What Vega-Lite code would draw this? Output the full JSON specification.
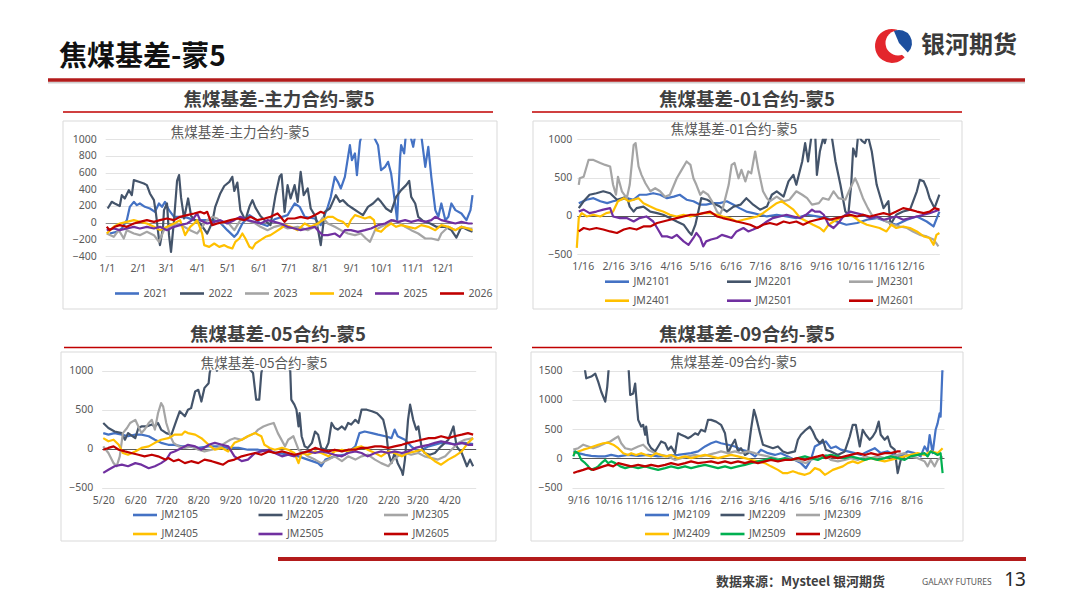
{
  "$schema": "https://vega.github.io/schema/vega-lite/v6.json",
  "width": 1080,
  "height": 608,
  "autosize": {"type": "none"},
  "padding": 0,
  "background": "white",
  "data": {"values": [{}]},
  "datasets": {
    "p1": [
      {"s":"2021","d":3,"v":-130},{"s":"2021","d":10,"v":-110},{"s":"2021","d":15,"v":-70},{"s":"2021","d":20,"v":30},{"s":"2021","d":23,"v":190},{"s":"2021","d":27,"v":250},{"s":"2021","d":30,"v":210},{"s":"2021","d":33,"v":230},{"s":"2021","d":38,"v":190},{"s":"2021","d":43,"v":170},{"s":"2021","d":48,"v":130},{"s":"2021","d":52,"v":230},{"s":"2021","d":55,"v":190},{"s":"2021","d":58,"v":250},{"s":"2021","d":62,"v":150},{"s":"2021","d":67,"v":70},{"s":"2021","d":72,"v":70},{"s":"2021","d":80,"v":60},{"s":"2021","d":87,"v":30},{"s":"2021","d":97,"v":30},{"s":"2021","d":107,"v":30},{"s":"2021","d":113,"v":0},{"s":"2021","d":120,"v":-90},{"s":"2021","d":127,"v":-170},{"s":"2021","d":130,"v":-130},{"s":"2021","d":135,"v":-10},{"s":"2021","d":138,"v":30},{"s":"2021","d":142,"v":90},{"s":"2021","d":147,"v":50},{"s":"2021","d":153,"v":-10},{"s":"2021","d":160,"v":-40},{"s":"2021","d":167,"v":40},{"s":"2021","d":180,"v":90},{"s":"2021","d":187,"v":230},{"s":"2021","d":192,"v":190},{"s":"2021","d":197,"v":70},{"s":"2021","d":207,"v":50},{"s":"2021","d":213,"v":-30},{"s":"2021","d":220,"v":190},{"s":"2021","d":223,"v":310},{"s":"2021","d":227,"v":550},{"s":"2021","d":230,"v":490},{"s":"2021","d":233,"v":410},{"s":"2021","d":237,"v":550},{"s":"2021","d":242,"v":930},{"s":"2021","d":244,"v":750},{"s":"2021","d":247,"v":830},{"s":"2021","d":249,"v":570},{"s":"2021","d":252,"v":970},{"s":"2021","d":255,"v":1100},{"s":"2021","d":260,"v":1150},{"s":"2021","d":265,"v":1120},{"s":"2021","d":267,"v":1000},{"s":"2021","d":270,"v":930},{"s":"2021","d":273,"v":630},{"s":"2021","d":277,"v":670},{"s":"2021","d":280,"v":730},{"s":"2021","d":283,"v":590},{"s":"2021","d":287,"v":230},{"s":"2021","d":289,"v":30},{"s":"2021","d":292,"v":790},{"s":"2021","d":293,"v":930},{"s":"2021","d":296,"v":830},{"s":"2021","d":298,"v":1100},{"s":"2021","d":302,"v":1050},{"s":"2021","d":305,"v":910},{"s":"2021","d":307,"v":1050},{"s":"2021","d":310,"v":1100},{"s":"2021","d":313,"v":1050},{"s":"2021","d":317,"v":670},{"s":"2021","d":320,"v":910},{"s":"2021","d":323,"v":550},{"s":"2021","d":327,"v":150},{"s":"2021","d":330,"v":70},{"s":"2021","d":333,"v":230},{"s":"2021","d":337,"v":30},{"s":"2021","d":340,"v":70},{"s":"2021","d":343,"v":230},{"s":"2021","d":347,"v":150},{"s":"2021","d":353,"v":110},{"s":"2021","d":358,"v":30},{"s":"2021","d":362,"v":150},{"s":"2021","d":364,"v":330},
      {"s":"2022","d":1,"v":170},{"s":"2022","d":5,"v":250},{"s":"2022","d":8,"v":230},{"s":"2022","d":13,"v":200},{"s":"2022","d":15,"v":330},{"s":"2022","d":18,"v":290},{"s":"2022","d":22,"v":390},{"s":"2022","d":25,"v":330},{"s":"2022","d":27,"v":510},{"s":"2022","d":32,"v":490},{"s":"2022","d":37,"v":470},{"s":"2022","d":40,"v":450},{"s":"2022","d":43,"v":350},{"s":"2022","d":47,"v":270},{"s":"2022","d":49,"v":110},{"s":"2022","d":52,"v":-200},{"s":"2022","d":53,"v":-270},{"s":"2022","d":56,"v":-60},{"s":"2022","d":57,"v":150},{"s":"2022","d":60,"v":230},{"s":"2022","d":62,"v":-150},{"s":"2022","d":64,"v":-350},{"s":"2022","d":67,"v":30},{"s":"2022","d":70,"v":500},{"s":"2022","d":72,"v":570},{"s":"2022","d":74,"v":300},{"s":"2022","d":77,"v":50},{"s":"2022","d":81,"v":290},{"s":"2022","d":84,"v":80},{"s":"2022","d":88,"v":30},{"s":"2022","d":93,"v":-10},{"s":"2022","d":100,"v":-130},{"s":"2022","d":105,"v":0},{"s":"2022","d":108,"v":190},{"s":"2022","d":113,"v":350},{"s":"2022","d":117,"v":440},{"s":"2022","d":122,"v":490},{"s":"2022","d":125,"v":550},{"s":"2022","d":127,"v":380},{"s":"2022","d":130,"v":480},{"s":"2022","d":133,"v":150},{"s":"2022","d":138,"v":30},{"s":"2022","d":142,"v":190},{"s":"2022","d":145,"v":270},{"s":"2022","d":148,"v":180},{"s":"2022","d":153,"v":80},{"s":"2022","d":158,"v":20},{"s":"2022","d":163,"v":-30},{"s":"2022","d":168,"v":330},{"s":"2022","d":172,"v":550},{"s":"2022","d":174,"v":580},{"s":"2022","d":177,"v":130},{"s":"2022","d":180,"v":450},{"s":"2022","d":183,"v":290},{"s":"2022","d":187,"v":450},{"s":"2022","d":190,"v":250},{"s":"2022","d":193,"v":610},{"s":"2022","d":196,"v":330},{"s":"2022","d":200,"v":410},{"s":"2022","d":203,"v":170},{"s":"2022","d":208,"v":70},{"s":"2022","d":213,"v":-270},{"s":"2022","d":217,"v":130},{"s":"2022","d":222,"v":170},{"s":"2022","d":228,"v":330},{"s":"2022","d":232,"v":250},{"s":"2022","d":235,"v":270},{"s":"2022","d":240,"v":210},{"s":"2022","d":245,"v":170},{"s":"2022","d":250,"v":130},{"s":"2022","d":255,"v":90},{"s":"2022","d":260,"v":190},{"s":"2022","d":265,"v":230},{"s":"2022","d":270,"v":290},{"s":"2022","d":273,"v":250},{"s":"2022","d":278,"v":170},{"s":"2022","d":283,"v":130},{"s":"2022","d":288,"v":310},{"s":"2022","d":293,"v":390},{"s":"2022","d":298,"v":450},{"s":"2022","d":301,"v":500},{"s":"2022","d":303,"v":310},{"s":"2022","d":307,"v":230},{"s":"2022","d":310,"v":70},{"s":"2022","d":315,"v":20},{"s":"2022","d":322,"v":-10},{"s":"2022","d":328,"v":-50},{"s":"2022","d":337,"v":-50},{"s":"2022","d":343,"v":-90},{"s":"2022","d":348,"v":-180},{"s":"2022","d":353,"v":-50},{"s":"2022","d":360,"v":-90},{"s":"2022","d":364,"v":-110},
      {"s":"2023","d":0,"v":-130},{"s":"2023","d":7,"v":-170},{"s":"2023","d":12,"v":-90},{"s":"2023","d":17,"v":-190},{"s":"2023","d":20,"v":-90},{"s":"2023","d":27,"v":-130},{"s":"2023","d":33,"v":-150},{"s":"2023","d":40,"v":-110},{"s":"2023","d":47,"v":-150},{"s":"2023","d":52,"v":-230},{"s":"2023","d":57,"v":-90},{"s":"2023","d":63,"v":-50},{"s":"2023","d":70,"v":-10},{"s":"2023","d":77,"v":-50},{"s":"2023","d":83,"v":-90},{"s":"2023","d":90,"v":-130},{"s":"2023","d":95,"v":-50},{"s":"2023","d":100,"v":30},{"s":"2023","d":105,"v":70},{"s":"2023","d":110,"v":50},{"s":"2023","d":115,"v":-10},{"s":"2023","d":120,"v":10},{"s":"2023","d":127,"v":-90},{"s":"2023","d":133,"v":30},{"s":"2023","d":140,"v":30},{"s":"2023","d":148,"v":-10},{"s":"2023","d":153,"v":-50},{"s":"2023","d":160,"v":-90},{"s":"2023","d":167,"v":-50},{"s":"2023","d":173,"v":-30},{"s":"2023","d":180,"v":-70},{"s":"2023","d":190,"v":-50},{"s":"2023","d":200,"v":-90},{"s":"2023","d":210,"v":-30},{"s":"2023","d":215,"v":60},{"s":"2023","d":220,"v":-10},{"s":"2023","d":227,"v":-50},{"s":"2023","d":233,"v":-90},{"s":"2023","d":240,"v":-130},{"s":"2023","d":247,"v":-150},{"s":"2023","d":253,"v":-130},{"s":"2023","d":258,"v":-190},{"s":"2023","d":262,"v":-230},{"s":"2023","d":267,"v":-90},{"s":"2023","d":273,"v":-50},{"s":"2023","d":280,"v":-10},{"s":"2023","d":285,"v":30},{"s":"2023","d":290,"v":10},{"s":"2023","d":297,"v":-50},{"s":"2023","d":303,"v":-90},{"s":"2023","d":310,"v":-130},{"s":"2023","d":317,"v":-190},{"s":"2023","d":323,"v":-190},{"s":"2023","d":330,"v":-210},{"s":"2023","d":333,"v":-130},{"s":"2023","d":340,"v":-50},{"s":"2023","d":347,"v":-90},{"s":"2023","d":353,"v":-50},{"s":"2023","d":360,"v":-70},{"s":"2023","d":364,"v":-70},
      {"s":"2024","d":0,"v":-130},{"s":"2024","d":7,"v":-50},{"s":"2024","d":13,"v":-10},{"s":"2024","d":20,"v":10},{"s":"2024","d":27,"v":30},{"s":"2024","d":33,"v":10},{"s":"2024","d":40,"v":-10},{"s":"2024","d":47,"v":-50},{"s":"2024","d":53,"v":-90},{"s":"2024","d":60,"v":-50},{"s":"2024","d":67,"v":-10},{"s":"2024","d":73,"v":30},{"s":"2024","d":78,"v":-150},{"s":"2024","d":83,"v":-50},{"s":"2024","d":87,"v":-10},{"s":"2024","d":90,"v":30},{"s":"2024","d":95,"v":-130},{"s":"2024","d":97,"v":-270},{"s":"2024","d":102,"v":-290},{"s":"2024","d":107,"v":-250},{"s":"2024","d":112,"v":-290},{"s":"2024","d":117,"v":-270},{"s":"2024","d":120,"v":-290},{"s":"2024","d":125,"v":-310},{"s":"2024","d":128,"v":-230},{"s":"2024","d":132,"v":-190},{"s":"2024","d":135,"v":-130},{"s":"2024","d":138,"v":-190},{"s":"2024","d":142,"v":-290},{"s":"2024","d":145,"v":-310},{"s":"2024","d":148,"v":-250},{"s":"2024","d":153,"v":-210},{"s":"2024","d":158,"v":-170},{"s":"2024","d":163,"v":-150},{"s":"2024","d":168,"v":-110},{"s":"2024","d":173,"v":-70},{"s":"2024","d":178,"v":-30},{"s":"2024","d":183,"v":-50},{"s":"2024","d":190,"v":-90},{"s":"2024","d":197,"v":-10},{"s":"2024","d":203,"v":-50},{"s":"2024","d":210,"v":-10},{"s":"2024","d":215,"v":30},{"s":"2024","d":220,"v":70},{"s":"2024","d":225,"v":70},{"s":"2024","d":230,"v":30},{"s":"2024","d":235,"v":10},{"s":"2024","d":240,"v":-50},{"s":"2024","d":243,"v":30},{"s":"2024","d":247,"v":90},{"s":"2024","d":252,"v":70},{"s":"2024","d":257,"v":50},{"s":"2024","d":262,"v":70},{"s":"2024","d":266,"v":30},{"s":"2024","d":268,"v":-90},{"s":"2024","d":273,"v":-110},{"s":"2024","d":278,"v":-50},{"s":"2024","d":283,"v":-10},{"s":"2024","d":288,"v":-50},{"s":"2024","d":293,"v":-30},{"s":"2024","d":300,"v":-50},{"s":"2024","d":307,"v":-70},{"s":"2024","d":313,"v":-30},{"s":"2024","d":320,"v":-50},{"s":"2024","d":327,"v":-90},{"s":"2024","d":333,"v":-30},{"s":"2024","d":340,"v":-50},{"s":"2024","d":347,"v":-90},{"s":"2024","d":353,"v":-50},{"s":"2024","d":360,"v":-70},{"s":"2024","d":364,"v":-90},
      {"s":"2025","d":0,"v":-90},{"s":"2025","d":7,"v":-70},{"s":"2025","d":13,"v":-90},{"s":"2025","d":20,"v":-70},{"s":"2025","d":27,"v":-50},{"s":"2025","d":33,"v":-70},{"s":"2025","d":40,"v":-50},{"s":"2025","d":47,"v":-70},{"s":"2025","d":53,"v":-50},{"s":"2025","d":60,"v":-90},{"s":"2025","d":67,"v":-50},{"s":"2025","d":73,"v":-30},{"s":"2025","d":80,"v":-10},{"s":"2025","d":85,"v":30},{"s":"2025","d":90,"v":110},{"s":"2025","d":93,"v":30},{"s":"2025","d":100,"v":-10},{"s":"2025","d":107,"v":10},{"s":"2025","d":113,"v":30},{"s":"2025","d":120,"v":-10},{"s":"2025","d":127,"v":30},{"s":"2025","d":133,"v":70},{"s":"2025","d":140,"v":30},{"s":"2025","d":147,"v":10},{"s":"2025","d":153,"v":-10},{"s":"2025","d":160,"v":30},{"s":"2025","d":167,"v":10},{"s":"2025","d":173,"v":-10},{"s":"2025","d":180,"v":-50},{"s":"2025","d":187,"v":-70},{"s":"2025","d":193,"v":-90},{"s":"2025","d":200,"v":-70},{"s":"2025","d":207,"v":-50},{"s":"2025","d":210,"v":-90},{"s":"2025","d":215,"v":-150},{"s":"2025","d":220,"v":-150},{"s":"2025","d":227,"v":-130},{"s":"2025","d":232,"v":-170},{"s":"2025","d":237,"v":-90},{"s":"2025","d":243,"v":-90},{"s":"2025","d":250,"v":-110},{"s":"2025","d":257,"v":-90},{"s":"2025","d":263,"v":-70},{"s":"2025","d":270,"v":-30},{"s":"2025","d":277,"v":-10},{"s":"2025","d":283,"v":30},{"s":"2025","d":290,"v":10},{"s":"2025","d":297,"v":30},{"s":"2025","d":303,"v":10},{"s":"2025","d":310,"v":30},{"s":"2025","d":317,"v":10},{"s":"2025","d":323,"v":30},{"s":"2025","d":327,"v":70},{"s":"2025","d":333,"v":30},{"s":"2025","d":340,"v":10},{"s":"2025","d":347,"v":-10},{"s":"2025","d":353,"v":10},{"s":"2025","d":360,"v":-10},{"s":"2025","d":364,"v":-10},
      {"s":"2026","d":0,"v":-50},{"s":"2026","d":3,"v":-90},{"s":"2026","d":8,"v":-50},{"s":"2026","d":13,"v":-30},{"s":"2026","d":20,"v":-50},{"s":"2026","d":27,"v":-10},{"s":"2026","d":33,"v":10},{"s":"2026","d":40,"v":30},{"s":"2026","d":47,"v":10},{"s":"2026","d":53,"v":30},{"s":"2026","d":60,"v":50},{"s":"2026","d":67,"v":30},{"s":"2026","d":73,"v":70},{"s":"2026","d":80,"v":90},{"s":"2026","d":87,"v":110},{"s":"2026","d":93,"v":130},{"s":"2026","d":97,"v":110},{"s":"2026","d":100,"v":130},{"s":"2026","d":103,"v":30},{"s":"2026","d":105,"v":-30},{"s":"2026","d":110,"v":-10},{"s":"2026","d":117,"v":10},{"s":"2026","d":123,"v":30},{"s":"2026","d":130,"v":50},{"s":"2026","d":137,"v":30},{"s":"2026","d":143,"v":70},{"s":"2026","d":150,"v":30},{"s":"2026","d":157,"v":50},{"s":"2026","d":163,"v":70},{"s":"2026","d":170,"v":110},{"s":"2026","d":173,"v":70},{"s":"2026","d":177,"v":10},{"s":"2026","d":180,"v":50},{"s":"2026","d":187,"v":50},{"s":"2026","d":193,"v":70},{"s":"2026","d":200,"v":50},{"s":"2026","d":207,"v":90},{"s":"2026","d":210,"v":110},{"s":"2026","d":213,"v":130},{"s":"2026","d":217,"v":110}
    ],
    "p2": [
      {"s":"JM2101","d":-4,"v":165},{"s":"JM2101","d":4,"v":210},{"s":"JM2101","d":11,"v":230},{"s":"JM2101","d":18,"v":190},{"s":"JM2101","d":25,"v":165},{"s":"JM2101","d":31,"v":190},{"s":"JM2101","d":38,"v":210},{"s":"JM2101","d":45,"v":230},{"s":"JM2101","d":52,"v":210},{"s":"JM2101","d":58,"v":275},{"s":"JM2101","d":65,"v":275},{"s":"JM2101","d":72,"v":295},{"s":"JM2101","d":79,"v":275},{"s":"JM2101","d":86,"v":230},{"s":"JM2101","d":93,"v":250},{"s":"JM2101","d":99,"v":275},{"s":"JM2101","d":106,"v":210},{"s":"JM2101","d":113,"v":190},{"s":"JM2101","d":120,"v":145},{"s":"JM2101","d":126,"v":145},{"s":"JM2101","d":133,"v":165},{"s":"JM2101","d":140,"v":165},{"s":"JM2101","d":147,"v":190},{"s":"JM2101","d":154,"v":145},{"s":"JM2101","d":160,"v":100},{"s":"JM2101","d":167,"v":55},{"s":"JM2101","d":174,"v":35},{"s":"JM2101","d":181,"v":13},{"s":"JM2101","d":188,"v":-9},{"s":"JM2101","d":198,"v":13},{"s":"JM2101","d":208,"v":-9},{"s":"JM2101","d":218,"v":-30},{"s":"JM2101","d":229,"v":13},{"s":"JM2101","d":239,"v":-9},{"s":"JM2101","d":249,"v":-30},{"s":"JM2101","d":259,"v":-75},{"s":"JM2101","d":269,"v":-117},{"s":"JM2101","d":280,"v":-95},{"s":"JM2101","d":290,"v":-52},{"s":"JM2101","d":300,"v":-30},{"s":"JM2101","d":310,"v":-75},{"s":"JM2101","d":320,"v":-117},{"s":"JM2101","d":331,"v":-52},{"s":"JM2101","d":341,"v":-9},{"s":"JM2101","d":351,"v":-75},{"s":"JM2101","d":358,"v":-140},{"s":"JM2101","d":364,"v":55},
      {"s":"JM2201","d":-4,"v":100},{"s":"JM2201","d":1,"v":190},{"s":"JM2201","d":7,"v":275},{"s":"JM2201","d":14,"v":295},{"s":"JM2201","d":21,"v":320},{"s":"JM2201","d":28,"v":295},{"s":"JM2201","d":35,"v":210},{"s":"JM2201","d":40,"v":230},{"s":"JM2201","d":45,"v":250},{"s":"JM2201","d":48,"v":120},{"s":"JM2201","d":52,"v":55},{"s":"JM2201","d":55,"v":100},{"s":"JM2201","d":62,"v":120},{"s":"JM2201","d":69,"v":55},{"s":"JM2201","d":76,"v":35},{"s":"JM2201","d":82,"v":13},{"s":"JM2201","d":89,"v":-30},{"s":"JM2201","d":96,"v":-75},{"s":"JM2201","d":103,"v":-117},{"s":"JM2201","d":108,"v":-205},{"s":"JM2201","d":111,"v":-250},{"s":"JM2201","d":115,"v":-117},{"s":"JM2201","d":118,"v":55},{"s":"JM2201","d":121,"v":230},{"s":"JM2201","d":127,"v":210},{"s":"JM2201","d":133,"v":165},{"s":"JM2201","d":140,"v":120},{"s":"JM2201","d":147,"v":55},{"s":"JM2201","d":154,"v":120},{"s":"JM2201","d":161,"v":145},{"s":"JM2201","d":167,"v":230},{"s":"JM2201","d":174,"v":145},{"s":"JM2201","d":181,"v":80},{"s":"JM2201","d":188,"v":120},{"s":"JM2201","d":193,"v":275},{"s":"JM2201","d":198,"v":320},{"s":"JM2201","d":205,"v":250},{"s":"JM2201","d":210,"v":450},{"s":"JM2201","d":215,"v":535},{"s":"JM2201","d":218,"v":405},{"s":"JM2201","d":224,"v":710},{"s":"JM2201","d":227,"v":950},{"s":"JM2201","d":230,"v":710},{"s":"JM2201","d":234,"v":1100},{"s":"JM2201","d":237,"v":1150},{"s":"JM2201","d":239,"v":535},{"s":"JM2201","d":242,"v":840},{"s":"JM2201","d":246,"v":1050},{"s":"JM2201","d":247,"v":950},{"s":"JM2201","d":251,"v":1150},{"s":"JM2201","d":254,"v":1050},{"s":"JM2201","d":258,"v":710},{"s":"JM2201","d":263,"v":405},{"s":"JM2201","d":268,"v":55},{"s":"JM2201","d":271,"v":13},{"s":"JM2201","d":274,"v":405},{"s":"JM2201","d":276,"v":880},{"s":"JM2201","d":279,"v":775},{"s":"JM2201","d":281,"v":1050},{"s":"JM2201","d":285,"v":980},{"s":"JM2201","d":288,"v":950},{"s":"JM2201","d":291,"v":1050},{"s":"JM2201","d":295,"v":840},{"s":"JM2201","d":300,"v":405},{"s":"JM2201","d":303,"v":275},{"s":"JM2201","d":307,"v":100},{"s":"JM2201","d":312,"v":190},{"s":"JM2201","d":314,"v":-117},{"s":"JM2201","d":320,"v":13},{"s":"JM2201","d":327,"v":55},{"s":"JM2201","d":334,"v":80},{"s":"JM2201","d":341,"v":320},{"s":"JM2201","d":344,"v":470},{"s":"JM2201","d":348,"v":450},{"s":"JM2201","d":351,"v":360},{"s":"JM2201","d":354,"v":230},{"s":"JM2201","d":359,"v":100},{"s":"JM2201","d":364,"v":275},
      {"s":"JM2301","d":-4,"v":405},{"s":"JM2301","d":-3,"v":490},{"s":"JM2301","d":1,"v":510},{"s":"JM2301","d":6,"v":730},{"s":"JM2301","d":11,"v":730},{"s":"JM2301","d":18,"v":690},{"s":"JM2301","d":23,"v":665},{"s":"JM2301","d":28,"v":645},{"s":"JM2301","d":31,"v":405},{"s":"JM2301","d":34,"v":275},{"s":"JM2301","d":36,"v":510},{"s":"JM2301","d":40,"v":320},{"s":"JM2301","d":45,"v":230},{"s":"JM2301","d":48,"v":405},{"s":"JM2301","d":52,"v":925},{"s":"JM2301","d":54,"v":950},{"s":"JM2301","d":57,"v":645},{"s":"JM2301","d":60,"v":535},{"s":"JM2301","d":64,"v":425},{"s":"JM2301","d":69,"v":320},{"s":"JM2301","d":74,"v":360},{"s":"JM2301","d":79,"v":320},{"s":"JM2301","d":84,"v":250},{"s":"JM2301","d":89,"v":275},{"s":"JM2301","d":96,"v":490},{"s":"JM2301","d":101,"v":600},{"s":"JM2301","d":106,"v":710},{"s":"JM2301","d":110,"v":665},{"s":"JM2301","d":113,"v":490},{"s":"JM2301","d":116,"v":405},{"s":"JM2301","d":120,"v":275},{"s":"JM2301","d":123,"v":320},{"s":"JM2301","d":128,"v":275},{"s":"JM2301","d":133,"v":165},{"s":"JM2301","d":137,"v":55},{"s":"JM2301","d":140,"v":13},{"s":"JM2301","d":143,"v":100},{"s":"JM2301","d":149,"v":405},{"s":"JM2301","d":152,"v":665},{"s":"JM2301","d":155,"v":690},{"s":"JM2301","d":159,"v":490},{"s":"JM2301","d":162,"v":600},{"s":"JM2301","d":166,"v":450},{"s":"JM2301","d":169,"v":580},{"s":"JM2301","d":172,"v":555},{"s":"JM2301","d":176,"v":840},{"s":"JM2301","d":179,"v":620},{"s":"JM2301","d":184,"v":320},{"s":"JM2301","d":188,"v":230},{"s":"JM2301","d":191,"v":190},{"s":"JM2301","d":198,"v":250},{"s":"JM2301","d":205,"v":190},{"s":"JM2301","d":211,"v":210},{"s":"JM2301","d":218,"v":320},{"s":"JM2301","d":224,"v":275},{"s":"JM2301","d":229,"v":230},{"s":"JM2301","d":234,"v":145},{"s":"JM2301","d":241,"v":165},{"s":"JM2301","d":245,"v":230},{"s":"JM2301","d":251,"v":210},{"s":"JM2301","d":256,"v":320},{"s":"JM2301","d":261,"v":230},{"s":"JM2301","d":268,"v":210},{"s":"JM2301","d":273,"v":360},{"s":"JM2301","d":278,"v":490},{"s":"JM2301","d":281,"v":405},{"s":"JM2301","d":286,"v":230},{"s":"JM2301","d":291,"v":100},{"s":"JM2301","d":296,"v":-9},{"s":"JM2301","d":303,"v":-30},{"s":"JM2301","d":310,"v":-75},{"s":"JM2301","d":317,"v":-117},{"s":"JM2301","d":324,"v":-140},{"s":"JM2301","d":331,"v":-160},{"s":"JM2301","d":337,"v":-205},{"s":"JM2301","d":344,"v":-250},{"s":"JM2301","d":351,"v":-270},{"s":"JM2301","d":358,"v":-310},{"s":"JM2301","d":363,"v":-400},
      {"s":"JM2401","d":-6,"v":-420},{"s":"JM2401","d":-4,"v":-30},{"s":"JM2401","d":-1,"v":35},{"s":"JM2401","d":4,"v":-9},{"s":"JM2401","d":11,"v":13},{"s":"JM2401","d":18,"v":-9},{"s":"JM2401","d":24,"v":35},{"s":"JM2401","d":31,"v":55},{"s":"JM2401","d":36,"v":190},{"s":"JM2401","d":42,"v":230},{"s":"JM2401","d":47,"v":190},{"s":"JM2401","d":52,"v":210},{"s":"JM2401","d":57,"v":230},{"s":"JM2401","d":62,"v":165},{"s":"JM2401","d":69,"v":120},{"s":"JM2401","d":76,"v":80},{"s":"JM2401","d":82,"v":55},{"s":"JM2401","d":89,"v":13},{"s":"JM2401","d":96,"v":-9},{"s":"JM2401","d":103,"v":13},{"s":"JM2401","d":110,"v":-9},{"s":"JM2401","d":116,"v":13},{"s":"JM2401","d":123,"v":35},{"s":"JM2401","d":130,"v":35},{"s":"JM2401","d":137,"v":13},{"s":"JM2401","d":143,"v":-9},{"s":"JM2401","d":150,"v":-30},{"s":"JM2401","d":157,"v":-75},{"s":"JM2401","d":164,"v":-52},{"s":"JM2401","d":171,"v":-30},{"s":"JM2401","d":178,"v":-9},{"s":"JM2401","d":184,"v":35},{"s":"JM2401","d":191,"v":100},{"s":"JM2401","d":198,"v":165},{"s":"JM2401","d":203,"v":190},{"s":"JM2401","d":208,"v":145},{"s":"JM2401","d":215,"v":80},{"s":"JM2401","d":222,"v":-30},{"s":"JM2401","d":229,"v":-75},{"s":"JM2401","d":235,"v":-117},{"s":"JM2401","d":242,"v":-160},{"s":"JM2401","d":246,"v":-205},{"s":"JM2401","d":251,"v":-117},{"s":"JM2401","d":256,"v":-75},{"s":"JM2401","d":263,"v":-30},{"s":"JM2401","d":269,"v":13},{"s":"JM2401","d":276,"v":-9},{"s":"JM2401","d":283,"v":-75},{"s":"JM2401","d":290,"v":-117},{"s":"JM2401","d":297,"v":-140},{"s":"JM2401","d":303,"v":-160},{"s":"JM2401","d":310,"v":-205},{"s":"JM2401","d":315,"v":-117},{"s":"JM2401","d":320,"v":-160},{"s":"JM2401","d":327,"v":-140},{"s":"JM2401","d":334,"v":-160},{"s":"JM2401","d":341,"v":-205},{"s":"JM2401","d":348,"v":-270},{"s":"JM2401","d":354,"v":-290},{"s":"JM2401","d":358,"v":-380},{"s":"JM2401","d":361,"v":-250},{"s":"JM2401","d":364,"v":-225},
      {"s":"JM2501","d":-4,"v":55},{"s":"JM2501","d":1,"v":80},{"s":"JM2501","d":7,"v":35},{"s":"JM2501","d":14,"v":55},{"s":"JM2501","d":21,"v":80},{"s":"JM2501","d":28,"v":100},{"s":"JM2501","d":31,"v":-9},{"s":"JM2501","d":38,"v":-30},{"s":"JM2501","d":45,"v":-30},{"s":"JM2501","d":52,"v":-75},{"s":"JM2501","d":58,"v":-30},{"s":"JM2501","d":65,"v":-9},{"s":"JM2501","d":72,"v":-75},{"s":"JM2501","d":76,"v":-160},{"s":"JM2501","d":81,"v":-270},{"s":"JM2501","d":86,"v":-270},{"s":"JM2501","d":91,"v":-290},{"s":"JM2501","d":96,"v":-250},{"s":"JM2501","d":103,"v":-335},{"s":"JM2501","d":108,"v":-380},{"s":"JM2501","d":113,"v":-290},{"s":"JM2501","d":116,"v":-225},{"s":"JM2501","d":120,"v":-290},{"s":"JM2501","d":123,"v":-400},{"s":"JM2501","d":126,"v":-335},{"s":"JM2501","d":131,"v":-310},{"s":"JM2501","d":137,"v":-290},{"s":"JM2501","d":142,"v":-250},{"s":"JM2501","d":147,"v":-270},{"s":"JM2501","d":152,"v":-290},{"s":"JM2501","d":157,"v":-205},{"s":"JM2501","d":164,"v":-160},{"s":"JM2501","d":169,"v":-205},{"s":"JM2501","d":174,"v":-180},{"s":"JM2501","d":181,"v":-140},{"s":"JM2501","d":188,"v":-75},{"s":"JM2501","d":194,"v":-30},{"s":"JM2501","d":201,"v":-9},{"s":"JM2501","d":208,"v":13},{"s":"JM2501","d":215,"v":-9},{"s":"JM2501","d":222,"v":-30},{"s":"JM2501","d":228,"v":13},{"s":"JM2501","d":234,"v":80},{"s":"JM2501","d":237,"v":55},{"s":"JM2501","d":242,"v":55},{"s":"JM2501","d":246,"v":13},{"s":"JM2501","d":251,"v":-117},{"s":"JM2501","d":256,"v":-160},{"s":"JM2501","d":261,"v":-95},{"s":"JM2501","d":266,"v":-9},{"s":"JM2501","d":273,"v":55},{"s":"JM2501","d":279,"v":35},{"s":"JM2501","d":286,"v":13},{"s":"JM2501","d":293,"v":-30},{"s":"JM2501","d":300,"v":-9},{"s":"JM2501","d":307,"v":-52},{"s":"JM2501","d":314,"v":-30},{"s":"JM2501","d":320,"v":-9},{"s":"JM2501","d":327,"v":-52},{"s":"JM2501","d":334,"v":-30},{"s":"JM2501","d":341,"v":-9},{"s":"JM2501","d":348,"v":13},{"s":"JM2501","d":354,"v":35},{"s":"JM2501","d":359,"v":55},{"s":"JM2501","d":364,"v":80},
      {"s":"JM2601","d":-4,"v":-205},{"s":"JM2601","d":1,"v":-160},{"s":"JM2601","d":7,"v":-180},{"s":"JM2601","d":14,"v":-160},{"s":"JM2601","d":21,"v":-180},{"s":"JM2601","d":28,"v":-205},{"s":"JM2601","d":35,"v":-225},{"s":"JM2601","d":42,"v":-180},{"s":"JM2601","d":48,"v":-160},{"s":"JM2601","d":55,"v":-180},{"s":"JM2601","d":62,"v":-140},{"s":"JM2601","d":69,"v":-140},{"s":"JM2601","d":76,"v":-95},{"s":"JM2601","d":82,"v":-75},{"s":"JM2601","d":89,"v":-52},{"s":"JM2601","d":96,"v":-30},{"s":"JM2601","d":103,"v":-9},{"s":"JM2601","d":110,"v":13},{"s":"JM2601","d":116,"v":13},{"s":"JM2601","d":123,"v":35},{"s":"JM2601","d":130,"v":55},{"s":"JM2601","d":137,"v":-9},{"s":"JM2601","d":143,"v":-30},{"s":"JM2601","d":150,"v":-52},{"s":"JM2601","d":157,"v":-75},{"s":"JM2601","d":164,"v":-95},{"s":"JM2601","d":171,"v":-117},{"s":"JM2601","d":178,"v":-160},{"s":"JM2601","d":184,"v":-117},{"s":"JM2601","d":191,"v":-95},{"s":"JM2601","d":198,"v":-117},{"s":"JM2601","d":205,"v":-75},{"s":"JM2601","d":211,"v":-95},{"s":"JM2601","d":218,"v":-75},{"s":"JM2601","d":225,"v":-117},{"s":"JM2601","d":232,"v":-75},{"s":"JM2601","d":239,"v":-52},{"s":"JM2601","d":246,"v":-30},{"s":"JM2601","d":252,"v":-52},{"s":"JM2601","d":259,"v":-30},{"s":"JM2601","d":266,"v":-9},{"s":"JM2601","d":273,"v":13},{"s":"JM2601","d":280,"v":-9},{"s":"JM2601","d":286,"v":13},{"s":"JM2601","d":293,"v":-9},{"s":"JM2601","d":300,"v":13},{"s":"JM2601","d":307,"v":35},{"s":"JM2601","d":313,"v":13},{"s":"JM2601","d":320,"v":55},{"s":"JM2601","d":327,"v":100},{"s":"JM2601","d":334,"v":80},{"s":"JM2601","d":341,"v":55},{"s":"JM2601","d":348,"v":35},{"s":"JM2601","d":354,"v":55},{"s":"JM2601","d":359,"v":100},{"s":"JM2601","d":364,"v":80}
    ],
    "p3": [
      {"s":"JM2105","d":0,"v":200},{"s":"JM2105","d":5,"v":180},{"s":"JM2105","d":11,"v":200},{"s":"JM2105","d":18,"v":180},{"s":"JM2105","d":24,"v":160},{"s":"JM2105","d":31,"v":180},{"s":"JM2105","d":37,"v":180},{"s":"JM2105","d":44,"v":160},{"s":"JM2105","d":50,"v":115},{"s":"JM2105","d":56,"v":75},{"s":"JM2105","d":63,"v":50},{"s":"JM2105","d":69,"v":50},{"s":"JM2105","d":76,"v":30},{"s":"JM2105","d":82,"v":30},{"s":"JM2105","d":92,"v":10},{"s":"JM2105","d":102,"v":30},{"s":"JM2105","d":111,"v":30},{"s":"JM2105","d":121,"v":10},{"s":"JM2105","d":131,"v":10},{"s":"JM2105","d":140,"v":-13},{"s":"JM2105","d":150,"v":-13},{"s":"JM2105","d":160,"v":-35},{"s":"JM2105","d":169,"v":-55},{"s":"JM2105","d":179,"v":-77},{"s":"JM2105","d":189,"v":-98},{"s":"JM2105","d":198,"v":-140},{"s":"JM2105","d":208,"v":-185},{"s":"JM2105","d":211,"v":-225},{"s":"JM2105","d":215,"v":-140},{"s":"JM2105","d":224,"v":-98},{"s":"JM2105","d":234,"v":-77},{"s":"JM2105","d":244,"v":30},{"s":"JM2105","d":248,"v":200},{"s":"JM2105","d":253,"v":220},{"s":"JM2105","d":260,"v":200},{"s":"JM2105","d":266,"v":180},{"s":"JM2105","d":273,"v":160},{"s":"JM2105","d":279,"v":135},{"s":"JM2105","d":282,"v":245},{"s":"JM2105","d":285,"v":160},{"s":"JM2105","d":292,"v":115},{"s":"JM2105","d":298,"v":30},{"s":"JM2105","d":305,"v":-35},{"s":"JM2105","d":315,"v":30},{"s":"JM2105","d":327,"v":75},{"s":"JM2105","d":340,"v":60},{"s":"JM2105","d":350,"v":75},{"s":"JM2105","d":358,"v":60},
      {"s":"JM2205","d":0,"v":330},{"s":"JM2205","d":5,"v":265},{"s":"JM2205","d":11,"v":220},{"s":"JM2205","d":18,"v":200},{"s":"JM2205","d":21,"v":115},{"s":"JM2205","d":24,"v":200},{"s":"JM2205","d":31,"v":135},{"s":"JM2205","d":34,"v":265},{"s":"JM2205","d":37,"v":285},{"s":"JM2205","d":42,"v":285},{"s":"JM2205","d":47,"v":310},{"s":"JM2205","d":50,"v":285},{"s":"JM2205","d":53,"v":330},{"s":"JM2205","d":56,"v":245},{"s":"JM2205","d":61,"v":200},{"s":"JM2205","d":66,"v":180},{"s":"JM2205","d":71,"v":370},{"s":"JM2205","d":74,"v":480},{"s":"JM2205","d":79,"v":415},{"s":"JM2205","d":82,"v":500},{"s":"JM2205","d":85,"v":520},{"s":"JM2205","d":89,"v":735},{"s":"JM2205","d":92,"v":755},{"s":"JM2205","d":95,"v":605},{"s":"JM2205","d":98,"v":780},{"s":"JM2205","d":102,"v":840},{"s":"JM2205","d":103,"v":970},{"s":"JM2205","d":105,"v":1080},{"s":"JM2205","d":108,"v":1150},{"s":"JM2205","d":110,"v":1000},{"s":"JM2205","d":115,"v":1150},{"s":"JM2205","d":130,"v":1200},{"s":"JM2205","d":145,"v":970},{"s":"JM2205","d":148,"v":630},{"s":"JM2205","d":151,"v":630},{"s":"JM2205","d":153,"v":970},{"s":"JM2205","d":156,"v":1150},{"s":"JM2205","d":170,"v":1200},{"s":"JM2205","d":181,"v":1000},{"s":"JM2205","d":182,"v":630},{"s":"JM2205","d":185,"v":565},{"s":"JM2205","d":187,"v":500},{"s":"JM2205","d":189,"v":285},{"s":"JM2205","d":190,"v":455},{"s":"JM2205","d":192,"v":160},{"s":"JM2205","d":195,"v":30},{"s":"JM2205","d":198,"v":10},{"s":"JM2205","d":202,"v":75},{"s":"JM2205","d":205,"v":220},{"s":"JM2205","d":208,"v":180},{"s":"JM2205","d":211,"v":10},{"s":"JM2205","d":215,"v":-13},{"s":"JM2205","d":218,"v":75},{"s":"JM2205","d":221,"v":330},{"s":"JM2205","d":224,"v":265},{"s":"JM2205","d":227,"v":245},{"s":"JM2205","d":231,"v":285},{"s":"JM2205","d":234,"v":245},{"s":"JM2205","d":237,"v":330},{"s":"JM2205","d":240,"v":310},{"s":"JM2205","d":244,"v":370},{"s":"JM2205","d":247,"v":330},{"s":"JM2205","d":250,"v":500},{"s":"JM2205","d":255,"v":500},{"s":"JM2205","d":260,"v":480},{"s":"JM2205","d":265,"v":455},{"s":"JM2205","d":268,"v":415},{"s":"JM2205","d":271,"v":370},{"s":"JM2205","d":274,"v":200},{"s":"JM2205","d":276,"v":-55},{"s":"JM2205","d":279,"v":-185},{"s":"JM2205","d":282,"v":-55},{"s":"JM2205","d":285,"v":-185},{"s":"JM2205","d":289,"v":-290},{"s":"JM2205","d":290,"v":-335},{"s":"JM2205","d":292,"v":-140},{"s":"JM2205","d":295,"v":370},{"s":"JM2205","d":297,"v":565},{"s":"JM2205","d":300,"v":370},{"s":"JM2205","d":303,"v":245},{"s":"JM2205","d":305,"v":285},{"s":"JM2205","d":308,"v":30},{"s":"JM2205","d":311,"v":-55},{"s":"JM2205","d":316,"v":-77},{"s":"JM2205","d":321,"v":-55},{"s":"JM2205","d":327,"v":30},{"s":"JM2205","d":334,"v":115},{"s":"JM2205","d":339,"v":285},{"s":"JM2205","d":342,"v":30},{"s":"JM2205","d":347,"v":-55},{"s":"JM2205","d":352,"v":-225},{"s":"JM2205","d":355,"v":-140},{"s":"JM2205","d":358,"v":-225},
      {"s":"JM2305","d":0,"v":30},{"s":"JM2305","d":5,"v":-55},{"s":"JM2305","d":10,"v":-185},{"s":"JM2305","d":13,"v":-225},{"s":"JM2305","d":16,"v":-98},{"s":"JM2305","d":19,"v":200},{"s":"JM2305","d":23,"v":265},{"s":"JM2305","d":26,"v":330},{"s":"JM2305","d":31,"v":370},{"s":"JM2305","d":34,"v":285},{"s":"JM2305","d":37,"v":200},{"s":"JM2305","d":40,"v":245},{"s":"JM2305","d":44,"v":330},{"s":"JM2305","d":47,"v":370},{"s":"JM2305","d":50,"v":245},{"s":"JM2305","d":53,"v":455},{"s":"JM2305","d":56,"v":585},{"s":"JM2305","d":58,"v":540},{"s":"JM2305","d":61,"v":330},{"s":"JM2305","d":65,"v":160},{"s":"JM2305","d":68,"v":75},{"s":"JM2305","d":73,"v":30},{"s":"JM2305","d":79,"v":10},{"s":"JM2305","d":85,"v":30},{"s":"JM2305","d":92,"v":-13},{"s":"JM2305","d":98,"v":-35},{"s":"JM2305","d":105,"v":-13},{"s":"JM2305","d":111,"v":10},{"s":"JM2305","d":118,"v":75},{"s":"JM2305","d":123,"v":115},{"s":"JM2305","d":127,"v":135},{"s":"JM2305","d":134,"v":115},{"s":"JM2305","d":140,"v":160},{"s":"JM2305","d":147,"v":200},{"s":"JM2305","d":150,"v":245},{"s":"JM2305","d":155,"v":285},{"s":"JM2305","d":160,"v":310},{"s":"JM2305","d":165,"v":330},{"s":"JM2305","d":169,"v":200},{"s":"JM2305","d":176,"v":30},{"s":"JM2305","d":179,"v":115},{"s":"JM2305","d":184,"v":160},{"s":"JM2305","d":189,"v":-13},{"s":"JM2305","d":194,"v":-55},{"s":"JM2305","d":198,"v":-98},{"s":"JM2305","d":205,"v":-140},{"s":"JM2305","d":211,"v":-185},{"s":"JM2305","d":218,"v":-140},{"s":"JM2305","d":224,"v":-98},{"s":"JM2305","d":231,"v":-160},{"s":"JM2305","d":237,"v":-98},{"s":"JM2305","d":244,"v":-140},{"s":"JM2305","d":250,"v":-98},{"s":"JM2305","d":256,"v":-77},{"s":"JM2305","d":263,"v":-140},{"s":"JM2305","d":269,"v":-185},{"s":"JM2305","d":276,"v":-225},{"s":"JM2305","d":281,"v":-140},{"s":"JM2305","d":285,"v":-98},{"s":"JM2305","d":292,"v":-55},{"s":"JM2305","d":298,"v":-77},{"s":"JM2305","d":305,"v":-55},{"s":"JM2305","d":311,"v":-98},{"s":"JM2305","d":318,"v":-120},{"s":"JM2305","d":324,"v":-140},{"s":"JM2305","d":331,"v":-98},{"s":"JM2305","d":337,"v":-13},{"s":"JM2305","d":344,"v":75},{"s":"JM2305","d":350,"v":115},{"s":"JM2305","d":358,"v":135},
      {"s":"JM2405","d":0,"v":135},{"s":"JM2405","d":5,"v":95},{"s":"JM2405","d":10,"v":115},{"s":"JM2405","d":15,"v":50},{"s":"JM2405","d":19,"v":-55},{"s":"JM2405","d":24,"v":-77},{"s":"JM2405","d":31,"v":-35},{"s":"JM2405","d":37,"v":10},{"s":"JM2405","d":44,"v":30},{"s":"JM2405","d":50,"v":75},{"s":"JM2405","d":56,"v":115},{"s":"JM2405","d":63,"v":135},{"s":"JM2405","d":69,"v":180},{"s":"JM2405","d":76,"v":180},{"s":"JM2405","d":79,"v":220},{"s":"JM2405","d":82,"v":200},{"s":"JM2405","d":89,"v":180},{"s":"JM2405","d":95,"v":135},{"s":"JM2405","d":102,"v":50},{"s":"JM2405","d":108,"v":-13},{"s":"JM2405","d":115,"v":10},{"s":"JM2405","d":121,"v":-35},{"s":"JM2405","d":127,"v":75},{"s":"JM2405","d":134,"v":115},{"s":"JM2405","d":140,"v":160},{"s":"JM2405","d":147,"v":200},{"s":"JM2405","d":150,"v":180},{"s":"JM2405","d":153,"v":160},{"s":"JM2405","d":156,"v":50},{"s":"JM2405","d":161,"v":10},{"s":"JM2405","d":166,"v":-13},{"s":"JM2405","d":173,"v":10},{"s":"JM2405","d":179,"v":-13},{"s":"JM2405","d":185,"v":-55},{"s":"JM2405","d":189,"v":-185},{"s":"JM2405","d":192,"v":-55},{"s":"JM2405","d":198,"v":-77},{"s":"JM2405","d":205,"v":-35},{"s":"JM2405","d":211,"v":-55},{"s":"JM2405","d":218,"v":-98},{"s":"JM2405","d":224,"v":-35},{"s":"JM2405","d":231,"v":-13},{"s":"JM2405","d":237,"v":-35},{"s":"JM2405","d":244,"v":10},{"s":"JM2405","d":250,"v":30},{"s":"JM2405","d":256,"v":-13},{"s":"JM2405","d":263,"v":-55},{"s":"JM2405","d":269,"v":-98},{"s":"JM2405","d":276,"v":-35},{"s":"JM2405","d":282,"v":-55},{"s":"JM2405","d":289,"v":-98},{"s":"JM2405","d":295,"v":-55},{"s":"JM2405","d":302,"v":-35},{"s":"JM2405","d":308,"v":-13},{"s":"JM2405","d":315,"v":-98},{"s":"JM2405","d":321,"v":-160},{"s":"JM2405","d":327,"v":-205},{"s":"JM2405","d":334,"v":-140},{"s":"JM2405","d":340,"v":-98},{"s":"JM2405","d":347,"v":-35},{"s":"JM2405","d":353,"v":75},{"s":"JM2405","d":358,"v":135},
      {"s":"JM2505","d":0,"v":-310},{"s":"JM2505","d":5,"v":-270},{"s":"JM2505","d":11,"v":-225},{"s":"JM2505","d":18,"v":-205},{"s":"JM2505","d":24,"v":-225},{"s":"JM2505","d":31,"v":-185},{"s":"JM2505","d":37,"v":-205},{"s":"JM2505","d":44,"v":-250},{"s":"JM2505","d":50,"v":-225},{"s":"JM2505","d":56,"v":-185},{"s":"JM2505","d":61,"v":-140},{"s":"JM2505","d":65,"v":-55},{"s":"JM2505","d":69,"v":-35},{"s":"JM2505","d":76,"v":10},{"s":"JM2505","d":82,"v":50},{"s":"JM2505","d":89,"v":30},{"s":"JM2505","d":95,"v":-13},{"s":"JM2505","d":102,"v":50},{"s":"JM2505","d":108,"v":75},{"s":"JM2505","d":115,"v":50},{"s":"JM2505","d":121,"v":30},{"s":"JM2505","d":127,"v":-98},{"s":"JM2505","d":134,"v":-160},{"s":"JM2505","d":140,"v":-140},{"s":"JM2505","d":147,"v":-55},{"s":"JM2505","d":153,"v":-35},{"s":"JM2505","d":160,"v":-13},{"s":"JM2505","d":166,"v":-55},{"s":"JM2505","d":173,"v":-98},{"s":"JM2505","d":179,"v":-77},{"s":"JM2505","d":185,"v":-98},{"s":"JM2505","d":192,"v":-55},{"s":"JM2505","d":198,"v":-35},{"s":"JM2505","d":205,"v":-55},{"s":"JM2505","d":211,"v":-35},{"s":"JM2505","d":218,"v":-55},{"s":"JM2505","d":224,"v":-77},{"s":"JM2505","d":231,"v":-98},{"s":"JM2505","d":237,"v":-55},{"s":"JM2505","d":244,"v":-35},{"s":"JM2505","d":250,"v":-55},{"s":"JM2505","d":256,"v":-98},{"s":"JM2505","d":263,"v":-55},{"s":"JM2505","d":269,"v":-35},{"s":"JM2505","d":276,"v":-55},{"s":"JM2505","d":282,"v":-35},{"s":"JM2505","d":289,"v":-55},{"s":"JM2505","d":295,"v":-35},{"s":"JM2505","d":302,"v":10},{"s":"JM2505","d":308,"v":30},{"s":"JM2505","d":315,"v":50},{"s":"JM2505","d":321,"v":75},{"s":"JM2505","d":327,"v":95},{"s":"JM2505","d":334,"v":75},{"s":"JM2505","d":340,"v":50},{"s":"JM2505","d":347,"v":75},{"s":"JM2505","d":353,"v":50},{"s":"JM2505","d":358,"v":50},
      {"s":"JM2605","d":0,"v":-13},{"s":"JM2605","d":5,"v":10},{"s":"JM2605","d":10,"v":30},{"s":"JM2605","d":15,"v":-13},{"s":"JM2605","d":21,"v":-35},{"s":"JM2605","d":27,"v":-55},{"s":"JM2605","d":34,"v":-77},{"s":"JM2605","d":40,"v":-98},{"s":"JM2605","d":47,"v":-77},{"s":"JM2605","d":53,"v":-98},{"s":"JM2605","d":60,"v":-140},{"s":"JM2605","d":63,"v":-120},{"s":"JM2605","d":68,"v":-160},{"s":"JM2605","d":73,"v":-140},{"s":"JM2605","d":79,"v":-185},{"s":"JM2605","d":85,"v":-160},{"s":"JM2605","d":92,"v":-185},{"s":"JM2605","d":98,"v":-140},{"s":"JM2605","d":105,"v":-160},{"s":"JM2605","d":111,"v":-185},{"s":"JM2605","d":116,"v":-205},{"s":"JM2605","d":121,"v":-160},{"s":"JM2605","d":127,"v":-140},{"s":"JM2605","d":134,"v":-98},{"s":"JM2605","d":140,"v":-77},{"s":"JM2605","d":147,"v":-55},{"s":"JM2605","d":153,"v":-77},{"s":"JM2605","d":160,"v":-35},{"s":"JM2605","d":166,"v":-55},{"s":"JM2605","d":173,"v":-35},{"s":"JM2605","d":179,"v":-55},{"s":"JM2605","d":185,"v":-77},{"s":"JM2605","d":192,"v":-55},{"s":"JM2605","d":198,"v":-35},{"s":"JM2605","d":205,"v":10},{"s":"JM2605","d":211,"v":-13},{"s":"JM2605","d":218,"v":-35},{"s":"JM2605","d":224,"v":-13},{"s":"JM2605","d":231,"v":-35},{"s":"JM2605","d":237,"v":-13},{"s":"JM2605","d":244,"v":-13},{"s":"JM2605","d":250,"v":10},{"s":"JM2605","d":256,"v":10},{"s":"JM2605","d":263,"v":30},{"s":"JM2605","d":269,"v":30},{"s":"JM2605","d":276,"v":10},{"s":"JM2605","d":282,"v":30},{"s":"JM2605","d":289,"v":50},{"s":"JM2605","d":295,"v":75},{"s":"JM2605","d":302,"v":95},{"s":"JM2605","d":308,"v":115},{"s":"JM2605","d":315,"v":135},{"s":"JM2605","d":321,"v":135},{"s":"JM2605","d":327,"v":160},{"s":"JM2605","d":334,"v":135},{"s":"JM2605","d":340,"v":160},{"s":"JM2605","d":347,"v":180},{"s":"JM2605","d":353,"v":200},{"s":"JM2605","d":358,"v":180}
    ],
    "p4": [
      {"s":"JM2109","d":-5,"v":120},{"s":"JM2109","d":0,"v":90},{"s":"JM2109","d":7,"v":60},{"s":"JM2109","d":13,"v":45},{"s":"JM2109","d":20,"v":35},{"s":"JM2109","d":27,"v":35},{"s":"JM2109","d":33,"v":60},{"s":"JM2109","d":40,"v":35},{"s":"JM2109","d":50,"v":60},{"s":"JM2109","d":60,"v":45},{"s":"JM2109","d":70,"v":60},{"s":"JM2109","d":80,"v":35},{"s":"JM2109","d":90,"v":45},{"s":"JM2109","d":100,"v":60},{"s":"JM2109","d":113,"v":90},{"s":"JM2109","d":120,"v":120},{"s":"JM2109","d":127,"v":205},{"s":"JM2109","d":133,"v":260},{"s":"JM2109","d":138,"v":290},{"s":"JM2109","d":143,"v":260},{"s":"JM2109","d":150,"v":235},{"s":"JM2109","d":157,"v":205},{"s":"JM2109","d":163,"v":150},{"s":"JM2109","d":170,"v":120},{"s":"JM2109","d":177,"v":35},{"s":"JM2109","d":180,"v":90},{"s":"JM2109","d":183,"v":150},{"s":"JM2109","d":190,"v":90},{"s":"JM2109","d":197,"v":60},{"s":"JM2109","d":203,"v":90},{"s":"JM2109","d":210,"v":35},{"s":"JM2109","d":217,"v":-25},{"s":"JM2109","d":223,"v":-80},{"s":"JM2109","d":228,"v":-165},{"s":"JM2109","d":233,"v":-25},{"s":"JM2109","d":237,"v":205},{"s":"JM2109","d":243,"v":260},{"s":"JM2109","d":248,"v":290},{"s":"JM2109","d":253,"v":175},{"s":"JM2109","d":258,"v":205},{"s":"JM2109","d":263,"v":150},{"s":"JM2109","d":270,"v":120},{"s":"JM2109","d":277,"v":90},{"s":"JM2109","d":283,"v":60},{"s":"JM2109","d":290,"v":120},{"s":"JM2109","d":297,"v":175},{"s":"JM2109","d":303,"v":90},{"s":"JM2109","d":310,"v":120},{"s":"JM2109","d":317,"v":60},{"s":"JM2109","d":323,"v":35},{"s":"JM2109","d":330,"v":120},{"s":"JM2109","d":337,"v":90},{"s":"JM2109","d":343,"v":35},{"s":"JM2109","d":347,"v":205},{"s":"JM2109","d":350,"v":120},{"s":"JM2109","d":352,"v":400},{"s":"JM2109","d":355,"v":90},{"s":"JM2109","d":358,"v":490},{"s":"JM2109","d":360,"v":600},{"s":"JM2109","d":362,"v":770},{"s":"JM2109","d":363,"v":715},{"s":"JM2109","d":365,"v":1600},
      {"s":"JM2209","d":5,"v":1700},{"s":"JM2209","d":8,"v":1370},{"s":"JM2209","d":13,"v":1400},{"s":"JM2209","d":17,"v":1450},{"s":"JM2209","d":20,"v":1310},{"s":"JM2209","d":23,"v":1140},{"s":"JM2209","d":27,"v":970},{"s":"JM2209","d":29,"v":1225},{"s":"JM2209","d":31,"v":1650},{"s":"JM2209","d":40,"v":1750},{"s":"JM2209","d":50,"v":1650},{"s":"JM2209","d":52,"v":1085},{"s":"JM2209","d":55,"v":1110},{"s":"JM2209","d":57,"v":1280},{"s":"JM2209","d":58,"v":1060},{"s":"JM2209","d":60,"v":660},{"s":"JM2209","d":63,"v":545},{"s":"JM2209","d":65,"v":575},{"s":"JM2209","d":67,"v":405},{"s":"JM2209","d":68,"v":545},{"s":"JM2209","d":70,"v":260},{"s":"JM2209","d":73,"v":175},{"s":"JM2209","d":77,"v":120},{"s":"JM2209","d":80,"v":205},{"s":"JM2209","d":83,"v":290},{"s":"JM2209","d":87,"v":260},{"s":"JM2209","d":90,"v":150},{"s":"JM2209","d":93,"v":205},{"s":"JM2209","d":97,"v":90},{"s":"JM2209","d":100,"v":430},{"s":"JM2209","d":103,"v":405},{"s":"JM2209","d":107,"v":375},{"s":"JM2209","d":110,"v":345},{"s":"JM2209","d":113,"v":375},{"s":"JM2209","d":117,"v":430},{"s":"JM2209","d":120,"v":405},{"s":"JM2209","d":123,"v":490},{"s":"JM2209","d":127,"v":460},{"s":"JM2209","d":130,"v":660},{"s":"JM2209","d":133,"v":660},{"s":"JM2209","d":138,"v":630},{"s":"JM2209","d":143,"v":575},{"s":"JM2209","d":147,"v":430},{"s":"JM2209","d":150,"v":90},{"s":"JM2209","d":153,"v":205},{"s":"JM2209","d":157,"v":320},{"s":"JM2209","d":160,"v":120},{"s":"JM2209","d":163,"v":175},{"s":"JM2209","d":167,"v":60},{"s":"JM2209","d":170,"v":90},{"s":"JM2209","d":173,"v":490},{"s":"JM2209","d":176,"v":830},{"s":"JM2209","d":178,"v":715},{"s":"JM2209","d":182,"v":430},{"s":"JM2209","d":185,"v":235},{"s":"JM2209","d":190,"v":205},{"s":"JM2209","d":195,"v":175},{"s":"JM2209","d":200,"v":205},{"s":"JM2209","d":205,"v":120},{"s":"JM2209","d":210,"v":90},{"s":"JM2209","d":217,"v":120},{"s":"JM2209","d":220,"v":320},{"s":"JM2209","d":223,"v":405},{"s":"JM2209","d":228,"v":490},{"s":"JM2209","d":232,"v":545},{"s":"JM2209","d":235,"v":460},{"s":"JM2209","d":238,"v":345},{"s":"JM2209","d":242,"v":260},{"s":"JM2209","d":245,"v":320},{"s":"JM2209","d":248,"v":150},{"s":"JM2209","d":253,"v":120},{"s":"JM2209","d":260,"v":60},{"s":"JM2209","d":267,"v":120},{"s":"JM2209","d":272,"v":375},{"s":"JM2209","d":275,"v":575},{"s":"JM2209","d":278,"v":575},{"s":"JM2209","d":282,"v":205},{"s":"JM2209","d":285,"v":490},{"s":"JM2209","d":288,"v":405},{"s":"JM2209","d":292,"v":320},{"s":"JM2209","d":295,"v":375},{"s":"JM2209","d":298,"v":460},{"s":"JM2209","d":301,"v":630},{"s":"JM2209","d":303,"v":405},{"s":"JM2209","d":307,"v":320},{"s":"JM2209","d":310,"v":375},{"s":"JM2209","d":313,"v":205},{"s":"JM2209","d":317,"v":150},{"s":"JM2209","d":320,"v":-250},{"s":"JM2209","d":323,"v":-25},{"s":"JM2209","d":327,"v":35},
      {"s":"JM2309","d":-5,"v":150},{"s":"JM2309","d":0,"v":175},{"s":"JM2309","d":5,"v":235},{"s":"JM2309","d":10,"v":205},{"s":"JM2309","d":15,"v":175},{"s":"JM2309","d":20,"v":205},{"s":"JM2309","d":27,"v":260},{"s":"JM2309","d":32,"v":290},{"s":"JM2309","d":37,"v":345},{"s":"JM2309","d":40,"v":375},{"s":"JM2309","d":43,"v":260},{"s":"JM2309","d":47,"v":175},{"s":"JM2309","d":53,"v":150},{"s":"JM2309","d":60,"v":205},{"s":"JM2309","d":65,"v":235},{"s":"JM2309","d":70,"v":150},{"s":"JM2309","d":77,"v":90},{"s":"JM2309","d":83,"v":60},{"s":"JM2309","d":90,"v":35},{"s":"JM2309","d":97,"v":-25},{"s":"JM2309","d":103,"v":5},{"s":"JM2309","d":110,"v":35},{"s":"JM2309","d":117,"v":60},{"s":"JM2309","d":123,"v":35},{"s":"JM2309","d":130,"v":60},{"s":"JM2309","d":137,"v":90},{"s":"JM2309","d":143,"v":120},{"s":"JM2309","d":150,"v":90},{"s":"JM2309","d":157,"v":120},{"s":"JM2309","d":163,"v":90},{"s":"JM2309","d":170,"v":120},{"s":"JM2309","d":177,"v":90},{"s":"JM2309","d":183,"v":60},{"s":"JM2309","d":190,"v":35},{"s":"JM2309","d":197,"v":5},{"s":"JM2309","d":203,"v":-25},{"s":"JM2309","d":210,"v":5},{"s":"JM2309","d":217,"v":-25},{"s":"JM2309","d":223,"v":-50},{"s":"JM2309","d":228,"v":-80},{"s":"JM2309","d":233,"v":-25},{"s":"JM2309","d":238,"v":5},{"s":"JM2309","d":243,"v":35},{"s":"JM2309","d":248,"v":60},{"s":"JM2309","d":253,"v":-25},{"s":"JM2309","d":260,"v":-50},{"s":"JM2309","d":267,"v":-25},{"s":"JM2309","d":273,"v":5},{"s":"JM2309","d":280,"v":-25},{"s":"JM2309","d":287,"v":35},{"s":"JM2309","d":293,"v":5},{"s":"JM2309","d":300,"v":35},{"s":"JM2309","d":307,"v":5},{"s":"JM2309","d":313,"v":35},{"s":"JM2309","d":320,"v":60},{"s":"JM2309","d":327,"v":90},{"s":"JM2309","d":333,"v":35},{"s":"JM2309","d":340,"v":5},{"s":"JM2309","d":347,"v":-50},{"s":"JM2309","d":350,"v":-135},{"s":"JM2309","d":353,"v":-25},{"s":"JM2309","d":357,"v":-135},{"s":"JM2309","d":360,"v":-25},{"s":"JM2309","d":365,"v":35},
      {"s":"JM2409","d":-5,"v":90},{"s":"JM2409","d":0,"v":120},{"s":"JM2409","d":5,"v":150},{"s":"JM2409","d":10,"v":175},{"s":"JM2409","d":15,"v":205},{"s":"JM2409","d":20,"v":235},{"s":"JM2409","d":25,"v":260},{"s":"JM2409","d":30,"v":270},{"s":"JM2409","d":35,"v":235},{"s":"JM2409","d":40,"v":175},{"s":"JM2409","d":45,"v":90},{"s":"JM2409","d":50,"v":60},{"s":"JM2409","d":53,"v":90},{"s":"JM2409","d":58,"v":60},{"s":"JM2409","d":63,"v":90},{"s":"JM2409","d":68,"v":60},{"s":"JM2409","d":73,"v":35},{"s":"JM2409","d":78,"v":90},{"s":"JM2409","d":83,"v":60},{"s":"JM2409","d":88,"v":35},{"s":"JM2409","d":93,"v":60},{"s":"JM2409","d":100,"v":5},{"s":"JM2409","d":107,"v":35},{"s":"JM2409","d":113,"v":5},{"s":"JM2409","d":120,"v":35},{"s":"JM2409","d":127,"v":60},{"s":"JM2409","d":133,"v":35},{"s":"JM2409","d":140,"v":5},{"s":"JM2409","d":147,"v":35},{"s":"JM2409","d":153,"v":60},{"s":"JM2409","d":160,"v":35},{"s":"JM2409","d":167,"v":5},{"s":"JM2409","d":173,"v":-25},{"s":"JM2409","d":180,"v":-50},{"s":"JM2409","d":187,"v":-80},{"s":"JM2409","d":193,"v":-135},{"s":"JM2409","d":200,"v":-195},{"s":"JM2409","d":205,"v":-250},{"s":"JM2409","d":210,"v":-250},{"s":"JM2409","d":215,"v":-220},{"s":"JM2409","d":220,"v":-250},{"s":"JM2409","d":227,"v":-280},{"s":"JM2409","d":232,"v":-250},{"s":"JM2409","d":237,"v":-165},{"s":"JM2409","d":242,"v":-195},{"s":"JM2409","d":247,"v":-280},{"s":"JM2409","d":250,"v":-250},{"s":"JM2409","d":255,"v":-195},{"s":"JM2409","d":260,"v":-165},{"s":"JM2409","d":265,"v":-135},{"s":"JM2409","d":270,"v":-80},{"s":"JM2409","d":275,"v":-50},{"s":"JM2409","d":280,"v":-80},{"s":"JM2409","d":287,"v":-25},{"s":"JM2409","d":293,"v":5},{"s":"JM2409","d":300,"v":-25},{"s":"JM2409","d":307,"v":-50},{"s":"JM2409","d":313,"v":-25},{"s":"JM2409","d":320,"v":5},{"s":"JM2409","d":327,"v":35},{"s":"JM2409","d":333,"v":60},{"s":"JM2409","d":340,"v":90},{"s":"JM2409","d":347,"v":60},{"s":"JM2409","d":353,"v":120},{"s":"JM2409","d":360,"v":90},{"s":"JM2409","d":365,"v":175},
      {"s":"JM2509","d":-5,"v":35},{"s":"JM2509","d":-3,"v":120},{"s":"JM2509","d":0,"v":90},{"s":"JM2509","d":3,"v":-25},{"s":"JM2509","d":7,"v":-80},{"s":"JM2509","d":10,"v":-135},{"s":"JM2509","d":13,"v":-195},{"s":"JM2509","d":17,"v":-165},{"s":"JM2509","d":20,"v":-135},{"s":"JM2509","d":23,"v":-80},{"s":"JM2509","d":27,"v":-25},{"s":"JM2509","d":30,"v":-80},{"s":"JM2509","d":33,"v":-50},{"s":"JM2509","d":37,"v":-80},{"s":"JM2509","d":42,"v":-135},{"s":"JM2509","d":47,"v":-165},{"s":"JM2509","d":53,"v":-135},{"s":"JM2509","d":60,"v":-165},{"s":"JM2509","d":67,"v":-135},{"s":"JM2509","d":73,"v":-165},{"s":"JM2509","d":80,"v":-195},{"s":"JM2509","d":87,"v":-165},{"s":"JM2509","d":93,"v":-135},{"s":"JM2509","d":100,"v":-165},{"s":"JM2509","d":107,"v":-135},{"s":"JM2509","d":113,"v":-165},{"s":"JM2509","d":120,"v":-135},{"s":"JM2509","d":127,"v":-110},{"s":"JM2509","d":133,"v":-135},{"s":"JM2509","d":140,"v":-165},{"s":"JM2509","d":147,"v":-135},{"s":"JM2509","d":153,"v":-165},{"s":"JM2509","d":160,"v":-135},{"s":"JM2509","d":167,"v":-110},{"s":"JM2509","d":173,"v":-80},{"s":"JM2509","d":180,"v":-50},{"s":"JM2509","d":187,"v":-25},{"s":"JM2509","d":193,"v":5},{"s":"JM2509","d":200,"v":-25},{"s":"JM2509","d":207,"v":5},{"s":"JM2509","d":213,"v":-25},{"s":"JM2509","d":220,"v":5},{"s":"JM2509","d":227,"v":35},{"s":"JM2509","d":233,"v":5},{"s":"JM2509","d":240,"v":-25},{"s":"JM2509","d":247,"v":35},{"s":"JM2509","d":253,"v":60},{"s":"JM2509","d":260,"v":35},{"s":"JM2509","d":267,"v":5},{"s":"JM2509","d":273,"v":35},{"s":"JM2509","d":280,"v":5},{"s":"JM2509","d":287,"v":-25},{"s":"JM2509","d":293,"v":5},{"s":"JM2509","d":300,"v":-25},{"s":"JM2509","d":307,"v":5},{"s":"JM2509","d":313,"v":35},{"s":"JM2509","d":320,"v":5},{"s":"JM2509","d":327,"v":-25},{"s":"JM2509","d":333,"v":35},{"s":"JM2509","d":340,"v":60},{"s":"JM2509","d":347,"v":90},{"s":"JM2509","d":350,"v":35},{"s":"JM2509","d":353,"v":120},{"s":"JM2509","d":357,"v":90},{"s":"JM2509","d":360,"v":60},{"s":"JM2509","d":363,"v":90},{"s":"JM2509","d":365,"v":-250},
      {"s":"JM2609","d":-5,"v":-250},{"s":"JM2609","d":0,"v":-220},{"s":"JM2609","d":5,"v":-195},{"s":"JM2609","d":10,"v":-165},{"s":"JM2609","d":15,"v":-195},{"s":"JM2609","d":20,"v":-165},{"s":"JM2609","d":25,"v":-135},{"s":"JM2609","d":30,"v":-110},{"s":"JM2609","d":35,"v":-135},{"s":"JM2609","d":40,"v":-80},{"s":"JM2609","d":47,"v":-110},{"s":"JM2609","d":53,"v":-135},{"s":"JM2609","d":60,"v":-110},{"s":"JM2609","d":67,"v":-135},{"s":"JM2609","d":73,"v":-110},{"s":"JM2609","d":80,"v":-135},{"s":"JM2609","d":87,"v":-110},{"s":"JM2609","d":93,"v":-80},{"s":"JM2609","d":100,"v":-110},{"s":"JM2609","d":107,"v":-80},{"s":"JM2609","d":113,"v":-50},{"s":"JM2609","d":120,"v":-80},{"s":"JM2609","d":127,"v":-65},{"s":"JM2609","d":133,"v":-50},{"s":"JM2609","d":140,"v":-80},{"s":"JM2609","d":147,"v":-50},{"s":"JM2609","d":153,"v":-80},{"s":"JM2609","d":160,"v":-50},{"s":"JM2609","d":167,"v":-80},{"s":"JM2609","d":173,"v":-50},{"s":"JM2609","d":180,"v":-80},{"s":"JM2609","d":187,"v":-50},{"s":"JM2609","d":193,"v":-25},{"s":"JM2609","d":200,"v":-50},{"s":"JM2609","d":207,"v":-25},{"s":"JM2609","d":213,"v":-25},{"s":"JM2609","d":220,"v":5},{"s":"JM2609","d":227,"v":-25},{"s":"JM2609","d":233,"v":5},{"s":"JM2609","d":240,"v":35},{"s":"JM2609","d":245,"v":60},{"s":"JM2609","d":248,"v":5},{"s":"JM2609","d":253,"v":35},{"s":"JM2609","d":260,"v":5},{"s":"JM2609","d":267,"v":35},{"s":"JM2609","d":273,"v":60},{"s":"JM2609","d":280,"v":90},{"s":"JM2609","d":287,"v":60},{"s":"JM2609","d":293,"v":90},{"s":"JM2609","d":300,"v":60},{"s":"JM2609","d":307,"v":90},{"s":"JM2609","d":313,"v":90},{"s":"JM2609","d":320,"v":120},{"s":"JM2609","d":323,"v":120}
    ]
  },
  "layer": [
    {"mark": {"type": "text", "text": "焦煤基差-蒙5", "font": "Noto Sans CJK SC", "fontSize": 28, "fontWeight": "bold", "color": "#111111", "align": "left", "baseline": "middle"}, "encoding": {"x": {"value": 59}, "y": {"value": 58}}},
    {"mark": {"type": "arc", "fill": "#e3262c", "outerRadius": 17, "innerRadius": 0, "theta": 2.3, "theta2": 6.6}, "encoding": {"x": {"value": 892}, "y": {"value": 46}}},
    {"mark": {"type": "arc", "fill": "white", "outerRadius": 12.5, "innerRadius": 0, "theta": 0, "theta2": 6.2832}, "encoding": {"x": {"value": 898}, "y": {"value": 43}}},
    {"mark": {"type": "arc", "fill": "#1d4f9e", "outerRadius": 13, "innerRadius": 0, "theta": -0.4, "theta2": 2.4}, "encoding": {"x": {"value": 899}, "y": {"value": 43}}},
    {"mark": {"type": "text", "text": "银河期货", "font": "Noto Sans CJK SC", "fontSize": 24, "fontWeight": "bold", "color": "#3a3a3a", "align": "left", "baseline": "middle"}, "encoding": {"x": {"value": 921}, "y": {"value": 46}}},
    {"mark": {"type": "rule", "color": "#cfcfcf", "strokeWidth": 2}, "encoding": {"x": {"value": 48}, "x2": {"value": 1025}, "y": {"value": 82.5}}},
    {"mark": {"type": "rule", "color": "#b31b1b", "strokeWidth": 3.5}, "encoding": {"x": {"value": 48}, "x2": {"value": 1025}, "y": {"value": 80}}},

    {"mark": {"type": "text", "text": "焦煤基差-主力合约-蒙5", "font": "Noto Sans CJK SC", "fontSize": 18.5, "fontWeight": "bold", "color": "#404040", "align": "center", "baseline": "middle"}, "encoding": {"x": {"value": 279}, "y": {"value": 100}}},
    {"mark": {"type": "text", "text": "焦煤基差-01合约-蒙5", "font": "Noto Sans CJK SC", "fontSize": 18.5, "fontWeight": "bold", "color": "#404040", "align": "center", "baseline": "middle"}, "encoding": {"x": {"value": 747}, "y": {"value": 100}}},
    {"mark": {"type": "text", "text": "焦煤基差-05合约-蒙5", "font": "Noto Sans CJK SC", "fontSize": 18.5, "fontWeight": "bold", "color": "#404040", "align": "center", "baseline": "middle"}, "encoding": {"x": {"value": 278}, "y": {"value": 335}}},
    {"mark": {"type": "text", "text": "焦煤基差-09合约-蒙5", "font": "Noto Sans CJK SC", "fontSize": 18.5, "fontWeight": "bold", "color": "#404040", "align": "center", "baseline": "middle"}, "encoding": {"x": {"value": 747}, "y": {"value": 335}}},
    {"mark": {"type": "rule", "color": "#c00000", "strokeWidth": 1.3}, "encoding": {"x": {"value": 63}, "x2": {"value": 493}, "y": {"value": 112}}},
    {"mark": {"type": "rule", "color": "#c00000", "strokeWidth": 1.3}, "encoding": {"x": {"value": 532}, "x2": {"value": 962}, "y": {"value": 112}}},
    {"mark": {"type": "rule", "color": "#c00000", "strokeWidth": 1.3}, "encoding": {"x": {"value": 64}, "x2": {"value": 492}, "y": {"value": 347.5}}},
    {"mark": {"type": "rule", "color": "#c00000", "strokeWidth": 1.3}, "encoding": {"x": {"value": 532}, "x2": {"value": 962}, "y": {"value": 347.5}}},
    {"mark": {"type": "rect", "fillOpacity": 0, "stroke": "#d9d9d9", "strokeWidth": 1}, "encoding": {"x": {"value": 63}, "x2": {"value": 497}, "y": {"value": 121}, "y2": {"value": 309}}},
    {"mark": {"type": "rect", "fillOpacity": 0, "stroke": "#d9d9d9", "strokeWidth": 1}, "encoding": {"x": {"value": 533}, "x2": {"value": 962}, "y": {"value": 121}, "y2": {"value": 309}}},
    {"mark": {"type": "rect", "fillOpacity": 0, "stroke": "#d9d9d9", "strokeWidth": 1}, "encoding": {"x": {"value": 61}, "x2": {"value": 496}, "y": {"value": 352}, "y2": {"value": 541}}},
    {"mark": {"type": "rect", "fillOpacity": 0, "stroke": "#d9d9d9", "strokeWidth": 1}, "encoding": {"x": {"value": 531}, "x2": {"value": 963}, "y": {"value": 352}, "y2": {"value": 541}}},

    {"mark": {"type": "rule", "color": "#b31b1b", "strokeWidth": 4}, "encoding": {"x": {"value": 278}, "x2": {"value": 1026}, "y": {"value": 559}}},
    {"mark": {"type": "text", "text": "数据来源：Mysteel 银河期货", "font": "Noto Sans CJK SC", "fontSize": 13, "fontWeight": "bold", "color": "#404040", "align": "left", "baseline": "middle"}, "encoding": {"x": {"value": 716}, "y": {"value": 582}}},
    {"mark": {"type": "text", "text": "GALAXY FUTURES", "font": "Noto Sans", "fontSize": 8.5, "color": "#595959", "align": "left", "baseline": "middle"}, "encoding": {"x": {"value": 922}, "y": {"value": 582}}},
    {"mark": {"type": "text", "text": "13", "font": "Noto Sans", "fontSize": 19, "color": "#262626", "align": "right", "baseline": "middle"}, "encoding": {"x": {"value": 1026}, "y": {"value": 580}}},

    {
      "data": {"name": "p1"},
      "mark": {"type": "line", "strokeWidth": 2.2, "strokeJoin": "round"},
      "encoding": {
        "x": {"field": "d", "type": "quantitative", "scale": {"domain": [-1.5, 364], "range": [105.2, 472.5], "nice": false, "zero": false},
          "axis": {"orient": "bottom", "offset": -352, "values": [0, 31, 59, 90, 120, 151, 181, 212, 243, 273, 304, 334], "labelExpr": "timeFormat(datetime(2021, 0, 1 + datum.value), '%-m/%-d')", "labelPadding": 7}},
        "y": {"field": "v", "type": "quantitative", "scale": {"domain": [-400, 1000], "range": [256, 139.3], "nice": false, "zero": false},
          "axis": {"orient": "left", "offset": -105.2, "format": "d", "values": [-400, -200, 0, 200, 400, 600, 800, 1000], "labelPadding": 9, "grid": true, "gridColor": {"condition": {"test": "datum.value === 0", "value": "#8a8a8a"}, "value": "#e3e3e3"}}},
        "color": {"field": "s", "type": "nominal",
          "scale": {"domain": ["2021", "2022", "2023", "2024", "2025", "2026"], "range": ["#4472c4", "#44546a", "#a5a5a5", "#ffc000", "#7030a0", "#c00000"]},
          "legend": {"orient": "none", "legendX": 113.5, "legendY": 280, "direction": "horizontal", "columns": 6, "columnPadding": 6, "title": null}}
      }
    },
    {
      "data": {"name": "p2"},
      "mark": {"type": "line", "strokeWidth": 2.2, "strokeJoin": "round"},
      "encoding": {
        "x": {"field": "d", "type": "quantitative", "scale": {"domain": [-6, 364], "range": [576.8, 939.4], "nice": false, "zero": false},
          "axis": {"orient": "bottom", "offset": -354, "values": [0, 31, 59, 90, 120, 151, 181, 212, 243, 273, 304, 334], "labelExpr": "timeFormat(datetime(2021, 0, 16 + datum.value), '%-m/%-d')", "labelPadding": 7}},
        "y": {"field": "v", "type": "quantitative", "scale": {"domain": [-500, 1000], "range": [254, 139.3], "nice": false, "zero": false},
          "axis": {"orient": "left", "offset": -576.8, "format": "d", "values": [-500, 0, 500, 1000], "labelPadding": 5, "grid": true, "gridColor": {"condition": {"test": "datum.value === 0", "value": "#595959"}, "value": "#e3e3e3"}}},
        "color": {"field": "s", "type": "nominal",
          "scale": {"domain": ["JM2101", "JM2201", "JM2301", "JM2401", "JM2501", "JM2601"], "range": ["#4472c4", "#44546a", "#a5a5a5", "#ffc000", "#7030a0", "#c00000"]},
          "legend": {"orient": "none", "legendX": 603.5, "legendY": 268.2, "direction": "horizontal", "columns": 3, "columnPadding": 51, "rowPadding": -8.7, "title": null}}
      }
    },
    {
      "data": {"name": "p3"},
      "mark": {"type": "line", "strokeWidth": 2.2, "strokeJoin": "round"},
      "encoding": {
        "x": {"field": "d", "type": "quantitative", "scale": {"domain": [-1.5, 360.5], "range": [101.7, 475.7], "nice": false, "zero": false},
          "axis": {"orient": "bottom", "offset": -120.3, "values": [0, 31, 61, 92, 123, 153, 184, 214, 245, 276, 304, 335], "labelExpr": "timeFormat(datetime(2021, 4, 20 + datum.value), '%-m/%-d')", "labelPadding": 7.5}},
        "y": {"field": "v", "type": "quantitative", "scale": {"domain": [-500, 1000], "range": [487.7, 370.7], "nice": false, "zero": false},
          "axis": {"orient": "left", "offset": -101.7, "format": "d", "values": [-500, 0, 500, 1000], "labelPadding": 9, "grid": true, "gridColor": {"condition": {"test": "datum.value === 0", "value": "#595959"}, "value": "#e3e3e3"}}},
        "color": {"field": "s", "type": "nominal",
          "scale": {"domain": ["JM2105", "JM2205", "JM2305", "JM2405", "JM2505", "JM2605"], "range": ["#4472c4", "#44546a", "#a5a5a5", "#ffc000", "#7030a0", "#c00000"]},
          "legend": {"orient": "none", "legendX": 131.5, "legendY": 501.5, "direction": "horizontal", "columns": 3, "columnPadding": 54.5, "rowPadding": -9, "title": null}}
      }
    },
    {
      "data": {"name": "p4"},
      "mark": {"type": "line", "strokeWidth": 2.2, "strokeJoin": "round"},
      "encoding": {
        "x": {"field": "d", "type": "quantitative", "scale": {"domain": [-6.3, 366.4], "range": [572, 944], "nice": false, "zero": false},
          "axis": {"orient": "bottom", "offset": -120.3, "values": [0, 30, 61, 91, 122, 153, 181, 212, 242, 273, 303, 334], "labelExpr": "timeFormat(datetime(2021, 8, 16 + datum.value), '%-m/%-d')", "labelPadding": 7.5}},
        "y": {"field": "v", "type": "quantitative", "scale": {"domain": [-500, 1500], "range": [487.7, 370.7], "nice": false, "zero": false},
          "axis": {"orient": "left", "offset": -572, "format": "d", "values": [-500, 0, 500, 1000, 1500], "labelPadding": 10, "grid": true, "gridColor": {"condition": {"test": "datum.value === 0", "value": "#595959"}, "value": "#e3e3e3"}}},
        "color": {"field": "s", "type": "nominal",
          "scale": {"domain": ["JM2109", "JM2209", "JM2309", "JM2409", "JM2509", "JM2609"], "range": ["#4472c4", "#44546a", "#a5a5a5", "#ffc000", "#00b050", "#c00000"]},
          "legend": {"orient": "none", "legendX": 643.5, "legendY": 501.5, "direction": "horizontal", "columns": 3, "columnPadding": 4.5, "rowPadding": -9, "title": null}}
      }
    },

    {"mark": {"type": "rect", "fill": "white"}, "encoding": {"x": {"value": 104}, "x2": {"value": 474}, "y": {"value": 122}, "y2": {"value": 138.8}}},
    {"mark": {"type": "rect", "fill": "white"}, "encoding": {"x": {"value": 575}, "x2": {"value": 941}, "y": {"value": 122}, "y2": {"value": 138.8}}},
    {"mark": {"type": "rect", "fill": "white"}, "encoding": {"x": {"value": 100}, "x2": {"value": 477}, "y": {"value": 353}, "y2": {"value": 370.2}}},
    {"mark": {"type": "rect", "fill": "white"}, "encoding": {"x": {"value": 570}, "x2": {"value": 946}, "y": {"value": 353}, "y2": {"value": 370.2}}},

    {"mark": {"type": "text", "text": "焦煤基差-主力合约-蒙5", "font": "Noto Sans CJK SC", "fontSize": 13.5, "color": "#595959", "align": "center", "baseline": "middle"}, "encoding": {"x": {"value": 240}, "y": {"value": 133}}},
    {"mark": {"type": "text", "text": "焦煤基差-01合约-蒙5", "font": "Noto Sans CJK SC", "fontSize": 13.5, "color": "#595959", "align": "center", "baseline": "middle"}, "encoding": {"x": {"value": 734}, "y": {"value": 130}}},
    {"mark": {"type": "text", "text": "焦煤基差-05合约-蒙5", "font": "Noto Sans CJK SC", "fontSize": 13.5, "color": "#595959", "align": "center", "baseline": "middle"}, "encoding": {"x": {"value": 264}, "y": {"value": 364}}},
    {"mark": {"type": "text", "text": "焦煤基差-09合约-蒙5", "font": "Noto Sans CJK SC", "fontSize": 13.5, "color": "#595959", "align": "center", "baseline": "middle"}, "encoding": {"x": {"value": 733.5}, "y": {"value": 363}}}
  ],
  "resolve": {
    "scale": {"x": "independent", "y": "independent", "color": "independent"},
    "axis": {"x": "independent", "y": "independent"},
    "legend": {"color": "independent"}
  },
  "config": {
    "view": {"stroke": null},
    "font": "Noto Sans CJK SC",
    "axis": {"title": null, "domain": false, "ticks": false, "labelFont": "Noto Sans", "labelFontSize": 10.5, "labelColor": "#595959", "labelOverlap": false, "labelFlush": false},
    "axisX": {"grid": false},
    "axisY": {"gridWidth": 1},
    "legend": {"symbolType": "stroke", "symbolSize": 576, "symbolStrokeWidth": 2.6, "labelFont": "Noto Sans", "labelFontSize": 10.5, "labelColor": "#595959", "labelOffset": 3, "padding": 0}
  }
}
